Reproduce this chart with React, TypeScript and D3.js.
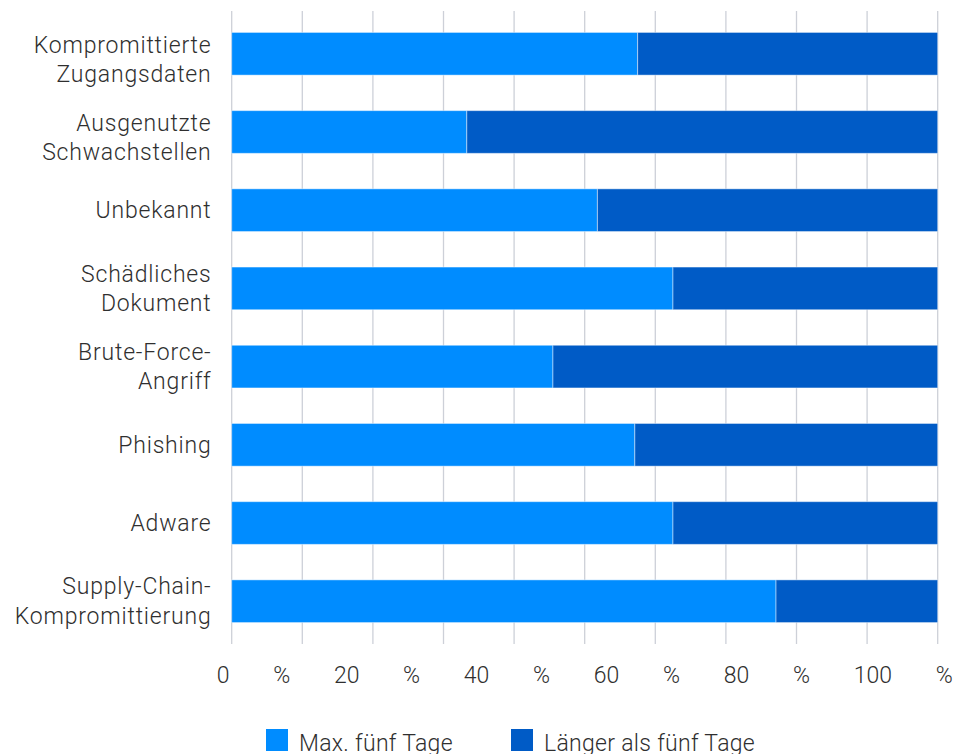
import React, { useEffect, useRef } from "react";
import * as d3 from "d3";

const categories = [
  "Kompromittierte\nZugangsdaten",
  "Ausgenutzte\nSchwachstellen",
  "Unbekannt",
  "Schädliches\nDokument",
  "Brute-Force-\nAngriff",
  "Phishing",
  "Adware",
  "Supply-Chain-\nKompromittierung",
];
const maxFiveDays = [57.5, 33.3, 51.8, 62.5, 45.5, 57.1, 62.5, 77.1];
const longerThanFive = maxFiveDays.map((v) => 100 - v);
const seriesNames = ["Max. fünf Tage", "Länger als fünf Tage"];
const seriesColors = ["#008CFF", "#005BC6"];
const tickValues = [0, 20, 40, 60, 80, 100];
const gridValues = [0, 10, 20, 30, 40, 50, 60, 70, 80, 90, 100];

const W = 956;
const H = 754;
const FONT = "Roboto, 'Noto Sans', sans-serif";
const TEXT = "#2f2f2f";

export default function App() {
  const ref = useRef<SVGSVGElement | null>(null);

  useEffect(() => {
    const svg = d3.select(ref.current);
    svg.selectAll("*").remove();

    const x = d3.scaleLinear().domain([0, 100]).range([231.7, 937.7]);
    const y = d3
      .scaleBand<string>()
      .domain(categories)
      .range([11, 644])
      .paddingInner(0.454)
      .paddingOuter(0.274);

    // gridlines
    svg
      .append("g")
      .selectAll("line")
      .data(gridValues)
      .join("line")
      .attr("x1", (d) => x(d))
      .attr("x2", (d) => x(d))
      .attr("y1", 11)
      .attr("y2", 644)
      .attr("stroke", "#cdd0d8")
      .attr("stroke-width", 1.3);

    const rows = categories.map((c, i) => ({
      c,
      a: maxFiveDays[i],
      b: longerThanFive[i],
    }));
    const stack = d3.stack<any>().keys(["a", "b"])(rows as any);

    svg
      .append("g")
      .selectAll("g")
      .data(stack)
      .join("g")
      .attr("fill", (_d, i) => seriesColors[i])
      .selectAll("rect")
      .data((d) => d)
      .join("rect")
      .attr("x", (d) => x(d[0]))
      .attr("width", (d) => x(d[1]) - x(d[0]))
      .attr("y", (d: any) => y(d.data.c)!)
      .attr("height", y.bandwidth())
      .attr("stroke", "rgba(255,255,255,0.45)")
      .attr("stroke-width", 1);

    // category labels
    const fs = 23;
    const lh = 29.5;
    const lab = svg
      .append("g")
      .attr("font-family", FONT)
      .attr("font-size", fs)
      .attr("font-weight", 300)
      .attr("letter-spacing", 0.8)
      .attr("fill", TEXT)
      .attr("text-anchor", "end");
    categories.forEach((c, i) => {
      const lines = c.split("\n");
      const cy = y(c)! + y.bandwidth() / 2 + (i < 2 ? 5.5 : 0);
      const t = lab.append("text");
      lines.forEach((ln, j) => {
        t.append("tspan")
          .attr("x", 211.5)
          .attr("y", cy + 8 + (j - (lines.length - 1) / 2) * lh)
          .text(ln);
      });
    });

    // x tick labels, justified tokens
    const tokens = tickValues.flatMap((v) => [String(v), "%"]);
    const tg = svg
      .append("g")
      .attr("font-family", FONT)
      .attr("font-size", fs)
      .attr("font-weight", 300)
      .attr("fill", TEXT);
    const texts = tg
      .selectAll("text")
      .data(tokens)
      .join("text")
      .attr("y", 682.5)
      .text((d) => d);
    const widths: number[] = [];
    texts.each(function () {
      widths.push((this as SVGTextElement).getComputedTextLength());
    });
    const left = 216.7;
    const right = 952.7;
    const gap = (right - left - d3.sum(widths)) / (tokens.length - 1);
    let cx = left;
    texts.attr("x", (_d, i) => {
      const p = cx;
      cx += widths[i] + gap;
      return p;
    });

    // legend
    const lg = svg
      .append("g")
      .attr("font-family", FONT)
      .attr("font-size", fs)
      .attr("font-weight", 300)
      .attr("letter-spacing", 0.3)
      .attr("fill", TEXT);
    const legX = [266, 511];
    seriesNames.forEach((n, i) => {
      lg.append("rect")
        .attr("x", legX[i])
        .attr("y", 729)
        .attr("width", 22)
        .attr("height", 22)
        .attr("fill", seriesColors[i]);
      lg.append("text").attr("x", legX[i] + 33).attr("y", 750.5).text(n);
    });
  }, []);

  return (
    <svg
      ref={ref}
      width={W}
      height={H}
      style={{ position: "absolute", left: 0, top: 0, background: "#fff" }}
    />
  );
}
